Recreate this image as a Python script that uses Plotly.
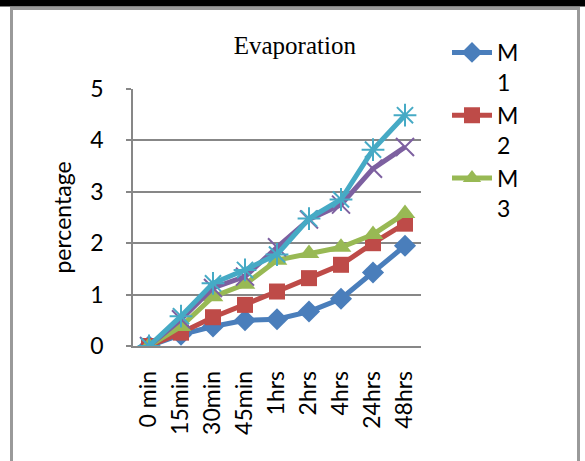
import plotly.graph_objects as go

# Evaporation (%) of five samples over time
times = ["0 min", "15min", "30min", "45min", "1hrs", "2hrs", "4hrs", "24hrs", "48hrs"]
m1 = [0, 0.22, 0.38, 0.50, 0.52, 0.67, 0.92, 1.43, 1.95]
m2 = [0, 0.26, 0.56, 0.80, 1.06, 1.32, 1.58, 2.00, 2.38]
m3 = [0, 0.38, 0.96, 1.20, 1.67, 1.80, 1.92, 2.17, 2.58]
m4 = [0, 0.52, 1.13, 1.35, 1.92, 2.46, 2.75, 3.45, 3.87]
m5 = [0, 0.58, 1.22, 1.48, 1.78, 2.48, 2.85, 3.82, 4.49]

names = ["M<br>1", "M<br>2", "M<br>3", "M<br>4", "M<br>5"]
series = [m1, m2, m3, m4, m5]
colors = ["#4A7EBB", "#BE4B48", "#98B954", "#7D60A0", "#46AAC5"]
symbols = ["diamond", "square", "triangle-up", "x-thin", "asterisk"]
sizes = [17, 16, 18, 18, 19]
in_legend = [True, True, True, False, False]

W, H = 585, 461
L, R, T, B = 133, 164, 89, 115
PW, PH = W - L - R, H - T - B


def px(x):
    return (x - L) / PW


def py(y):
    return (H - B - y) / PH


fig = go.Figure()
for name, vals, col, sym, sz, leg in zip(names, series, colors, symbols, sizes, in_legend):
    fig.add_trace(go.Scatter(
        x=times, y=vals, name=name, mode="lines+markers",
        line=dict(color=col, width=5),
        marker=dict(symbol=sym, size=sz, color=col,
                    line=dict(color=col, width=2 if sym in ("x-thin", "asterisk") else 0)),
        showlegend=leg,
    ))

grey = "#878787"
fig.update_layout(
    width=W, height=H,
    margin=dict(l=L, r=R, t=T, b=B, pad=0),
    paper_bgcolor="white", plot_bgcolor="white",
    font=dict(family="Lato", size=23, color="black"),
    title=dict(text="Evaporation", x=0.504, xanchor="center", xref="container",
               y=1 - 45 / H, yanchor="middle", yref="container",
               font=dict(family="Liberation Serif", size=25, color="black")),
    legend=dict(x=px(447), xanchor="left", y=py(31), yanchor="top",
                valign="top", font=dict(family="Lato", size=23, color="black"),
                bgcolor="rgba(0,0,0,0)", tracegroupgap=0, itemwidth=40),
    xaxis=dict(type="category", range=[-0.5, 8.5], tickangle=-90,
               showline=True, linecolor=grey, linewidth=1.5, showgrid=False,
               ticks="", ticklabelstandoff=14, zeroline=False),
    yaxis=dict(range=[0, 5], dtick=1, tick0=0, showgrid=True, gridcolor=grey, gridwidth=1.5,
               showline=True, linecolor=grey, linewidth=1.5, zeroline=False,
               ticks="outside", ticklen=5, tickcolor=grey, tickwidth=1.5,
               ticklabelstandoff=18,
               title=dict(text="percentage", standoff=12,
                          font=dict(family="Lato", size=23, color="black"))),
    shapes=[
        # black band along the top edge
        dict(type="rect", xref="paper", yref="paper", x0=px(0), x1=px(W), y0=py(6.5), y1=py(-1),
             fillcolor="black", line=dict(width=0), layer="above"),
        # grey frame
        dict(type="path", xref="paper", yref="paper",
             path=f"M {px(11.5)} {py(470)} L {px(11.5)} {py(8.5)} L {px(578.5)} {py(8.5)} L {px(578.5)} {py(470)}",
             line=dict(color="#9a9a9a", width=3)),
    ],
)

fig.write_html("out.html")
